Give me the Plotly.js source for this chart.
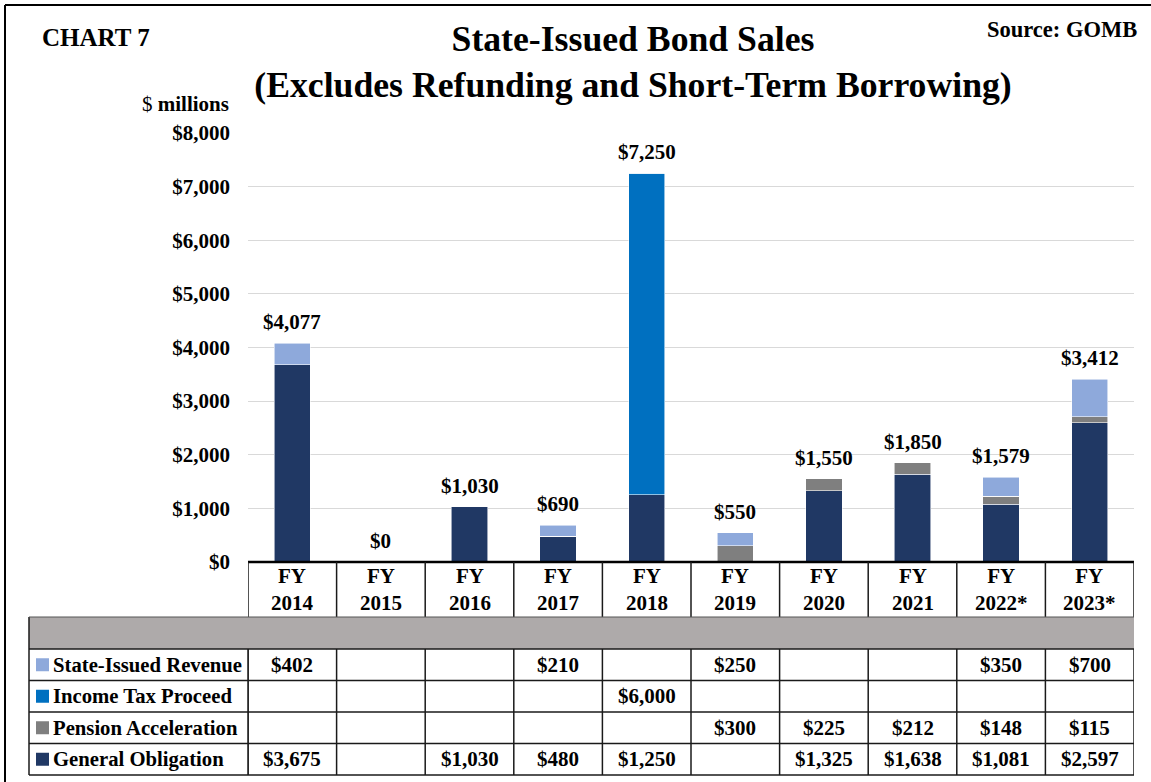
<!DOCTYPE html>
<html>
<head>
<meta charset="utf-8">
<script src="https://cdn.plot.ly/plotly-3.0.1.min.js"></script>
<style>
  html, body { margin: 0; padding: 0; background: #fff; }
  #chart { width: 1151px; height: 782px; }
</style>
</head>
<body>
<div id="chart"></div>
<script>
// ---------- DATA ----------
const categories = ["FY 2014", "FY 2015", "FY 2016", "FY 2017", "FY 2018", "FY 2019", "FY 2020", "FY 2021", "FY 2022*", "FY 2023*"];
const generalObligation = [3675, 0, 1030, 480, 1250, 0, 1325, 1638, 1081, 2597];
const pensionAcceleration = [0, 0, 0, 0, 0, 300, 225, 212, 148, 115];
const incomeTaxProceed = [0, 0, 0, 0, 6000, 0, 0, 0, 0, 0];
const stateIssuedRevenue = [402, 0, 0, 210, 0, 250, 0, 0, 350, 700];
const totals = [4077, 0, 1030, 690, 7250, 550, 1550, 1850, 1579, 3412];
const yTickValues = [0, 1000, 2000, 3000, 4000, 5000, 6000, 7000, 8000];
const seriesNames = ["State-Issued Revenue", "Income Tax Proceed", "Pension Acceleration", "General Obligation"];

// ---------- STYLE ----------
const FONT = "Liberation Serif, Times New Roman, serif";
const colors = {
  "General Obligation": "#203864",
  "Pension Acceleration": "#7F7F7F",
  "Income Tax Proceed": "#0070C0",
  "State-Issued Revenue": "#8EA9DB"
};
const W = 1151, H = 782;
const M = { l: 248, r: 17, t: 133, b: 220 };
const PW = W - M.l - M.r, PH = H - M.t - M.b;
const px = p => (p - M.l) / PW;          // pixel x -> paper x
const py = p => (H - M.b - p) / PH;      // pixel y -> paper y

const fmt = v => "$" + v.toLocaleString("en-US");

const seriesData = {
  "General Obligation": generalObligation,
  "Pension Acceleration": pensionAcceleration,
  "Income Tax Proceed": incomeTaxProceed,
  "State-Issued Revenue": stateIssuedRevenue
};

// stacking order bottom -> top
const stackOrder = ["General Obligation", "Pension Acceleration", "Income Tax Proceed", "State-Issued Revenue"];
const traces = stackOrder.map(name => ({
  type: "bar",
  name: name,
  x: categories,
  y: seriesData[name],
  marker: { color: colors[name], line: { color: "rgba(255,255,255,0.7)", width: 0.8 } },
  hoverinfo: "skip"
}));

const annotations = [];
const shapes = [];

// total labels
categories.forEach((c, i) => {
  annotations.push({
    x: c, y: totals[i], xref: "x", yref: "y",
    text: "<b>" + fmt(totals[i]) + "</b>",
    showarrow: false, yanchor: "bottom", yshift: 7,
    font: { family: FONT, size: 21, color: "#000" }
  });
});

// table geometry (pixels)
const tblLeft = 29, headTop = 562, headBot = 617, grayBot = 649;
const rowEdges = [649, 680.5, 712, 743.5, 775];
const lineCol = "#1a1a1a";

// header FY labels
categories.forEach((c, i) => {
  annotations.push({
    x: c, xref: "x", y: py((headTop + headBot) / 2), yref: "paper",
    text: "<b>" + c.replace(" ", "<br>") + "</b>",
    showarrow: false, yanchor: "middle", xanchor: "center",
    font: { family: FONT, size: 21, color: "#000" }
  });
});

// gray band
shapes.push({ type: "rect", xref: "paper", yref: "paper",
  x0: px(tblLeft), x1: 1, y0: py(grayBot), y1: py(headBot),
  fillcolor: "#AEAAAA", line: { width: 0 }, layer: "above" });

// header top line (axis)
shapes.push({ type: "line", xref: "paper", yref: "paper",
  x0: 0, x1: 1, y0: 0, y1: 0, line: { color: "#000", width: 2.5 }, layer: "above" });

// vertical category lines (header + rows)
for (let i = 0; i <= categories.length; i++) {
  shapes.push({ type: "line", xref: "x", yref: "paper",
    x0: i - 0.5, x1: i - 0.5, y0: py(headTop), y1: py(headBot),
    line: { color: lineCol, width: 1.5 }, layer: "above" });
  shapes.push({ type: "line", xref: "x", yref: "paper",
    x0: i - 0.5, x1: i - 0.5, y0: py(rowEdges[0]), y1: py(rowEdges[rowEdges.length - 1]),
    line: { color: lineCol, width: 1.5 }, layer: "above" });
}
// label column right edge & table left edge
shapes.push({ type: "line", xref: "paper", yref: "paper",
  x0: 0, x1: 0, y0: py(rowEdges[0]), y1: py(rowEdges[rowEdges.length - 1]), line: { color: lineCol, width: 1.5 }, layer: "above" });
shapes.push({ type: "line", xref: "paper", yref: "paper",
  x0: px(tblLeft), x1: px(tblLeft), y0: py(headBot), y1: py(rowEdges[rowEdges.length - 1]), line: { color: lineCol, width: 1.5 }, layer: "above" });
// horizontal row lines
rowEdges.forEach(e => {
  shapes.push({ type: "line", xref: "paper", yref: "paper",
    x0: px(tblLeft), x1: 1, y0: py(e), y1: py(e), line: { color: lineCol, width: 1.5 }, layer: "above" });
});
// gray band top line
shapes.push({ type: "line", xref: "paper", yref: "paper",
  x0: px(tblLeft), x1: 1, y0: py(headBot), y1: py(headBot), line: { color: "#555", width: 1 }, layer: "above" });

// table rows: key squares, labels, values
seriesNames.forEach((name, r) => {
  const cy = (rowEdges[r] + rowEdges[r + 1]) / 2;
  shapes.push({ type: "rect", xref: "paper", yref: "paper",
    x0: px(36), x1: px(49), y0: py(cy + 6.5), y1: py(cy - 6.5),
    fillcolor: colors[name], line: { width: 0 }, layer: "above" });
  annotations.push({
    x: px(51), xref: "paper", y: py(cy), yref: "paper",
    text: "<b>" + name + "</b>", showarrow: false, xanchor: "left", yanchor: "middle",
    font: { family: FONT, size: 20.7, color: "#000" }
  });
  seriesData[name].forEach((v, i) => {
    if (v > 0) {
      annotations.push({
        x: categories[i], xref: "x", y: py(cy), yref: "paper",
        text: "<b>" + fmt(v) + "</b>", showarrow: false, xanchor: "center", yanchor: "middle",
        font: { family: FONT, size: 21, color: "#000" }
      });
    }
  });
});

// outer frame (left and top edges visible)
shapes.push({ type: "line", xref: "paper", yref: "paper",
  x0: px(5), x1: px(5), y0: py(5), y1: py(800), line: { color: "#000", width: 2 }, layer: "above" });
shapes.push({ type: "line", xref: "paper", yref: "paper",
  x0: px(5), x1: px(1170), y0: py(5), y1: py(5), line: { color: "#000", width: 2 }, layer: "above" });

// texts
annotations.push({
  x: px(40), xref: "paper", y: py(37), yref: "paper",
  text: "<b>CHART 7</b>", showarrow: false, xanchor: "left", yanchor: "middle",
  font: { family: FONT, size: 25, color: "#000" }
});
annotations.push({
  x: px(1139), xref: "paper", y: py(29), yref: "paper",
  text: "<b>Source: GOMB</b>", showarrow: false, xanchor: "right", yanchor: "middle",
  font: { family: FONT, size: 22.5, color: "#000" }
});
annotations.push({
  x: px(231), xref: "paper", y: py(104), yref: "paper",
  text: "$ <b>millions</b>", showarrow: false, xanchor: "right", yanchor: "middle",
  font: { family: FONT, size: 21, color: "#000" }
});

const layout = {
  width: W, height: H,
  margin: M,
  paper_bgcolor: "#fff", plot_bgcolor: "#fff",
  barmode: "stack",
  bargap: 0.59,
  showlegend: false,
  title: {
    text: "<b>State-Issued Bond Sales<br>(Excludes Refunding and Short-Term Borrowing)</b>",
    x: 633 / W, xanchor: "center", xref: "container",
    y: 1 - 51 / H, yanchor: "top", yref: "container",
    font: { family: FONT, size: 35.7, color: "#000" }
  },
  xaxis: {
    type: "category", categoryorder: "array", categoryarray: categories,
    showticklabels: false, showgrid: false, zeroline: false, showline: false, ticks: "",
    range: [-0.5, categories.length - 0.5], fixedrange: true
  },
  yaxis: {
    range: [0, 8000], tickvals: yTickValues, tickformat: "$,",
    tickfont: { family: FONT, size: 21, color: "#000", weight: "bold" },
    showgrid: true, gridcolor: "#D9D9D9", gridwidth: 1,
    zeroline: false, showline: false, ticks: "", ticklabelstandoff: 17, fixedrange: true
  },
  annotations: annotations,
  shapes: shapes,
  font: { family: FONT, color: "#000" }
};

Plotly.newPlot("chart", traces, layout, { displayModeBar: false, staticPlot: true });
</script>
</body>
</html>
